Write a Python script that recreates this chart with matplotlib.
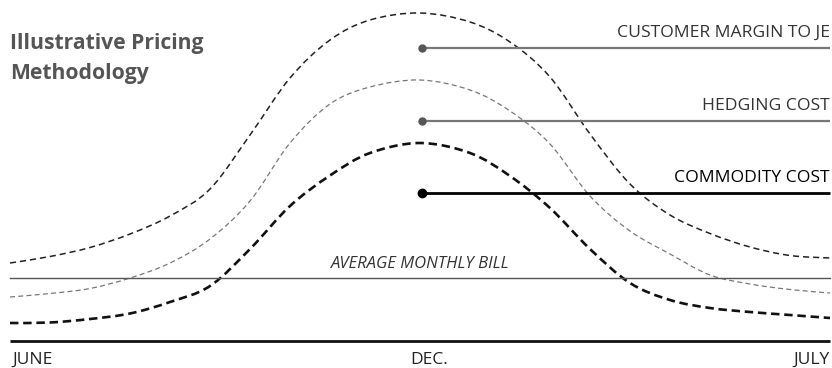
import matplotlib
matplotlib.use("Agg")
import matplotlib.pyplot as plt
from matplotlib.path import Path
from matplotlib.patches import PathPatch

# Horizontal position along the year (June -> Dec. -> July) in plot units
x_pos = [10, 50, 90, 130, 170, 210, 250, 290, 330, 370, 420,
         470, 510, 550, 590, 630, 670, 710, 750, 790, 830]

# Monthly bill levels (plot units measured down from the top, flipped below)
H = 368
customer_margin_depth = [263, 256.5, 247.5, 234, 216, 189, 135, 78, 40, 20, 13,
                         22, 42, 77, 134, 184, 215, 233.5, 247, 255.5, 258]
hedging_cost_depth = [297, 293.5, 288.5, 278, 263, 239, 201, 143, 104, 87, 80,
                      90, 111, 144, 196, 231, 254, 275, 284, 289.5, 293]
commodity_cost_depth = [323, 322.5, 319, 313.5, 302, 286, 249, 206, 175.5, 153, 143,
                        153, 176, 208, 249, 283, 300, 308, 312, 315, 318]

customer_margin = [H - v for v in customer_margin_depth]
hedging_cost = [H - v for v in hedging_cost_depth]
commodity_cost = [H - v for v in commodity_cost_depth]

average_bill = H - 277.5
baseline = H - 341

month_labels = ["JUNE", "DEC.", "JULY"]
month_pos = [12, 410, 830]
month_ha = ["left", "left", "right"]

series_labels = ["CUSTOMER MARGIN TO JE", "HEDGING COST", "COMMODITY COST"]
series_marker_y = [H - 48, H - 121, H - 193]
series_x_start = 422


def smooth_path(xs, ys):
    """Cubic path passing through every (x, y) point (Catmull-Rom tangents)."""
    pts = list(zip(xs, ys))
    n = len(pts)
    verts = [pts[0]]
    codes = [Path.MOVETO]
    for i in range(n - 1):
        p0 = pts[i - 1] if i > 0 else pts[i]
        p1 = pts[i]
        p2 = pts[i + 1]
        p3 = pts[i + 2] if i + 2 < n else pts[i + 1]
        c1 = (p1[0] + (p2[0] - p0[0]) / 6, p1[1] + (p2[1] - p0[1]) / 6)
        c2 = (p2[0] - (p3[0] - p1[0]) / 6, p2[1] - (p3[1] - p1[1]) / 6)
        verts += [c1, c2, p2]
        codes += [Path.CURVE4] * 3
    return Path(verts, codes)


fig = plt.figure(figsize=(8.32, 3.68), dpi=100)
ax = fig.add_axes([0, 0, 1, 1])
ax.set_xlim(0, 832)
ax.set_ylim(0, H)
ax.axis("off")

curve_styles = [
    (customer_margin, "#222222", 1.1, (4, 2.6)),
    (hedging_cost, "#777777", 0.9, (4, 2.6)),
    (commodity_cost, "#111111", 1.9, (3.2, 1.8)),
]
for vals, col, lw, dash in curve_styles:
    ax.add_patch(PathPatch(smooth_path(x_pos, vals), fill=False, edgecolor=col,
                           lw=lw, linestyle=(0, dash)))

# Average monthly bill and baseline
ax.plot([10, 830], [average_bill, average_bill], color="#555555", lw=1.0)
ax.text(420, average_bill + 13, "AVERAGE MONTHLY BILL", ha="center", va="center",
        fontsize=12, style="italic", color="#333333", family="Open Sans")
ax.plot([10, 830], [baseline, baseline], color="#111111", lw=2.0, solid_capstyle="butt")

for lab, xp, ha in zip(month_labels, month_pos, month_ha):
    ax.text(xp, H - 360, lab, ha=ha, va="center", fontsize=12.5, color="#222222",
            family="Open Sans")

# Series callouts
styles = [("#777777", 1.6, "#555555", "#333333"),
          ("#777777", 1.6, "#555555", "#333333"),
          ("#000000", 2.0, "#000000", "#000000")]
for lab, yv, (lc, lw, dc, tc) in zip(series_labels, series_marker_y, styles):
    ax.plot([series_x_start, 830], [yv, yv], color=lc, lw=lw, solid_capstyle="butt")
    ax.plot([series_x_start], [yv], "o", color=dc, ms=5 if dc != "#000000" else 6)
    ax.text(830, yv + 15, lab, ha="right", va="center", fontsize=12.6, color=tc,
            family="Open Sans")

ax.text(10, H - 43, "Illustrative Pricing", ha="left", va="center", fontsize=15.2,
        fontweight="bold", color="#555555", family="Open Sans")
ax.text(10, H - 73, "Methodology", ha="left", va="center", fontsize=15.2,
        fontweight="bold", color="#555555", family="Open Sans")

fig.savefig("out.png", dpi=100)
